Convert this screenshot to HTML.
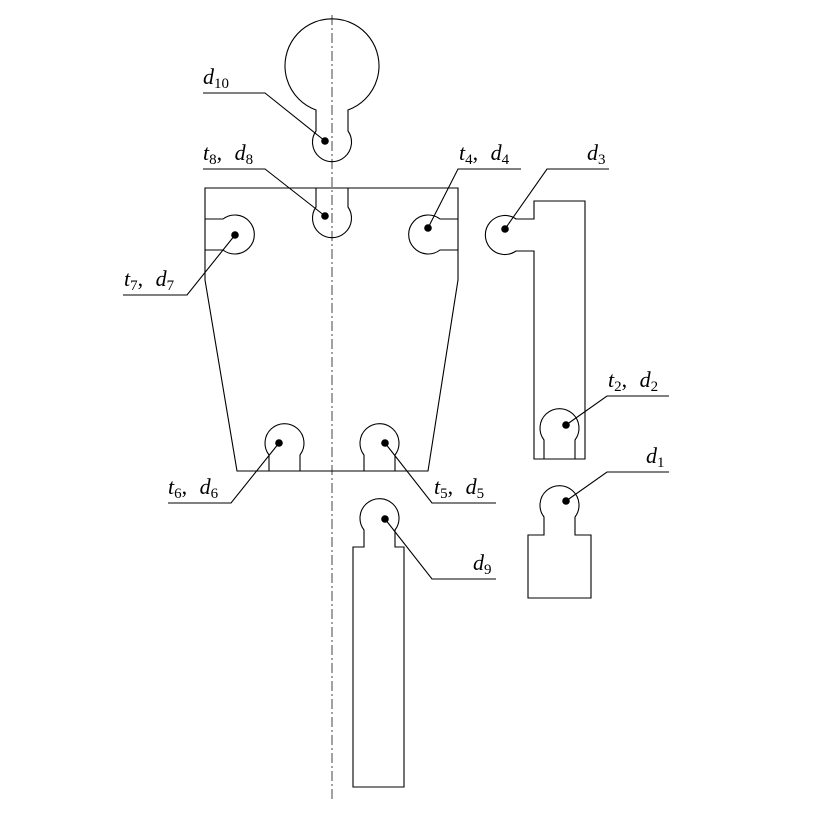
<!DOCTYPE html>
<html><head><meta charset="utf-8"><style>
html,body{margin:0;padding:0;background:#fff;}
svg{display:block;}
text{font-family:"Liberation Serif",serif;font-size:22px;fill:#000;}
.v{font-style:italic;}
.s{font-size:15px;font-style:normal;}
</style></head><body>
<svg width="834" height="814" viewBox="0 0 834 814">
<g fill="none" stroke="#000" stroke-width="1.1">
  <line x1="332" y1="15" x2="332" y2="800" stroke="#555" stroke-dasharray="10,3,2,3"/>
  <path d="M316,110 A47,47 0 1 1 348,110 L348,131 A19.5,19.5 0 1 1 316,131 Z"/>
  <path d="M205,188 L458,188 L458,280 L428,471 L237,471 L205,280 Z"/>
  <path d="M316,188 L316,207 A19.5,19.5 0 1 0 348,207 L348,188"/>
  <path d="M205,219 L223,219 A19.5,19.5 0 1 1 223,250 L205,250"/>
  <path d="M458,219 L440,219 A19.5,19.5 0 1 0 440,250 L458,250"/>
  <path d="M269,471 L269,455 A19.5,19.5 0 1 1 300,455 L300,471"/>
  <path d="M364,471 L364,455 A19.5,19.5 0 1 1 395,455 L395,471"/>
  <path d="M364,547 L364,530 A19.5,19.5 0 1 1 395,530 L395,547 L404,547 L404,787 L353,787 L353,547 Z"/>
  <path d="M534,201 L585,201 L585,459 L534,459 L534,251 L516,251 A19.5,19.5 0 1 1 516,219 L534,219 Z"/>
  <path d="M544,459 L544,440 A19.5,19.5 0 1 1 575,440 L575,459"/>
  <path d="M544,535 L544,517 A19.5,19.5 0 1 1 575,517 L575,535 L591,535 L591,598 L528,598 L528,535 Z"/>
  <polyline points="325,141 265,93 203,93"/>
  <polyline points="325,216 265,169 203,169"/>
  <polyline points="428,228 458,169 521,169"/>
  <polyline points="505,229 547,169 609,169"/>
  <polyline points="235,235 187,295 123,295"/>
  <polyline points="566,425 607,396 669,396"/>
  <polyline points="566,501 607,472 669,472"/>
  <polyline points="279,443 231,503 168,503"/>
  <polyline points="385,443 432,503 496,503"/>
  <polyline points="385,519 432,579 496,579"/>
</g>
<g fill="#000">
  <circle cx="325" cy="141" r="3.8"/><circle cx="325" cy="216" r="3.8"/>
  <circle cx="428" cy="228" r="3.8"/><circle cx="505" cy="229" r="3.8"/>
  <circle cx="235" cy="235" r="3.8"/><circle cx="566" cy="425" r="3.8"/>
  <circle cx="566" cy="501" r="3.8"/><circle cx="279" cy="443" r="3.8"/>
  <circle cx="385" cy="443" r="3.8"/><circle cx="385" cy="519" r="3.8"/>
</g>
<text x="203" y="84"><tspan class="v">d</tspan><tspan class="s" dy="4">10</tspan></text>
<text x="203" y="160"><tspan class="v">t</tspan><tspan class="s" dy="4">8</tspan><tspan dy="-4">,  </tspan><tspan class="v" dx="7">d</tspan><tspan class="s" dy="4">8</tspan></text>
<text x="459" y="160"><tspan class="v">t</tspan><tspan class="s" dy="4">4</tspan><tspan dy="-4">,  </tspan><tspan class="v" dx="7">d</tspan><tspan class="s" dy="4">4</tspan></text>
<text x="587" y="160"><tspan class="v">d</tspan><tspan class="s" dy="4">3</tspan></text>
<text x="124" y="286"><tspan class="v">t</tspan><tspan class="s" dy="4">7</tspan><tspan dy="-4">,  </tspan><tspan class="v" dx="7">d</tspan><tspan class="s" dy="4">7</tspan></text>
<text x="608" y="387"><tspan class="v">t</tspan><tspan class="s" dy="4">2</tspan><tspan dy="-4">,  </tspan><tspan class="v" dx="7">d</tspan><tspan class="s" dy="4">2</tspan></text>
<text x="646" y="463"><tspan class="v">d</tspan><tspan class="s" dy="4">1</tspan></text>
<text x="168" y="494"><tspan class="v">t</tspan><tspan class="s" dy="4">6</tspan><tspan dy="-4">,  </tspan><tspan class="v" dx="7">d</tspan><tspan class="s" dy="4">6</tspan></text>
<text x="434" y="494"><tspan class="v">t</tspan><tspan class="s" dy="4">5</tspan><tspan dy="-4">,  </tspan><tspan class="v" dx="7">d</tspan><tspan class="s" dy="4">5</tspan></text>
<text x="473" y="570"><tspan class="v">d</tspan><tspan class="s" dy="4">9</tspan></text>
</svg>
</body></html>
